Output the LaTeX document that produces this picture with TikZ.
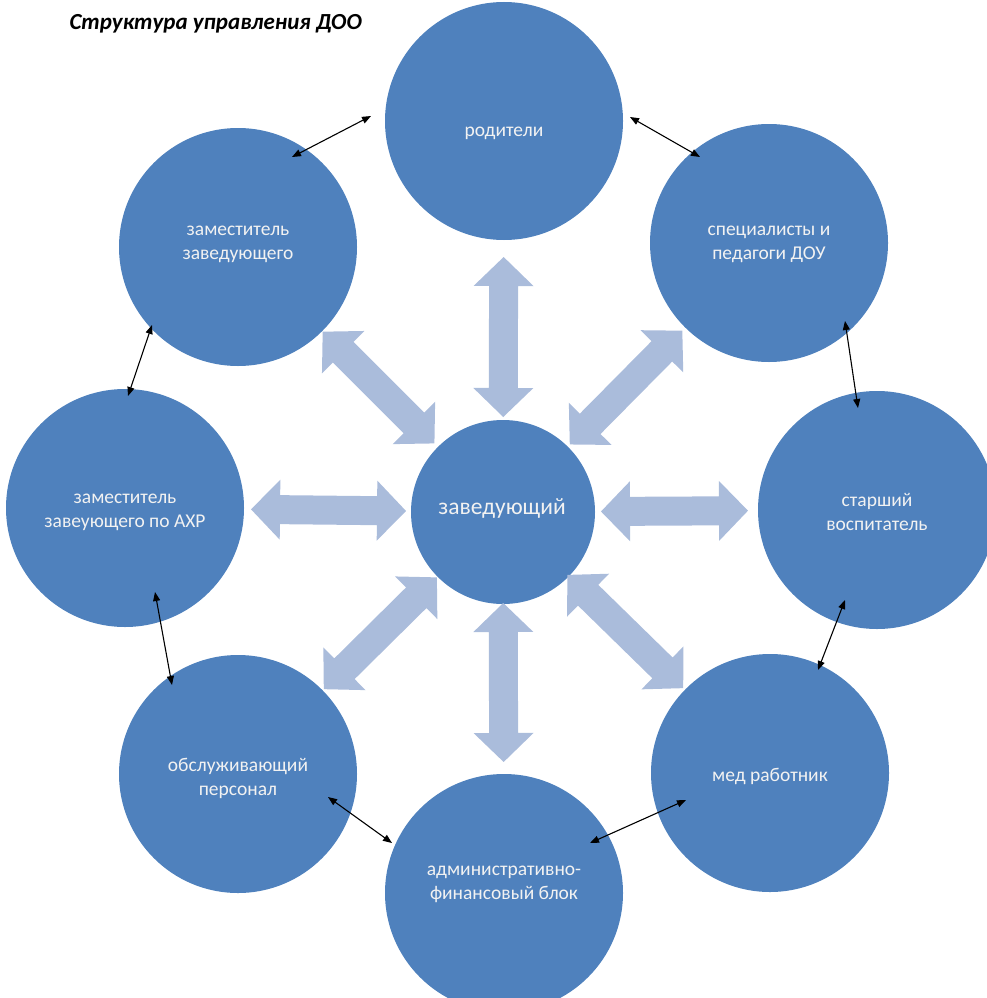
\documentclass[tikz,border=0pt]{standalone}
\usepackage{fontspec}
\setmainfont{Carlito}
\usetikzlibrary{calc,arrows.meta}
\definecolor{circ}{HTML}{4F81BD}
\definecolor{fat}{HTML}{AABCDB}
\definecolor{lbl}{HTML}{F2F2F2}
\tikzset{
  outer/.style={circle,fill=circ,minimum size=238pt,inner sep=0pt},
  lbltext/.style={text=lbl,font=\fontsize{19.5}{24}\selectfont,align=center},
  centre/.style={circle,fill=circ,minimum size=184pt,inner sep=0pt,text=lbl,
    font=\fontsize{23.5}{28}\selectfont,align=center},
  thin/.style={line width=1.1pt,black,{Triangle[length=9pt,width=7pt]}-{Triangle[length=9pt,width=7pt]}},
}
\newcommand{\fatarrow}[2]{%
  \fill[fat] let \p1=(#1), \p2=(#2), \n1={atan2(\y2-\y1,\x2-\x1)}, \n2={veclen(\x2-\x1,\y2-\y1)} in
   [shift={(\x1,\y1)},rotate=\n1]
   (0pt,0pt) -- (29pt,30pt) -- (29pt,14.5pt) -- (\n2-29pt,14.5pt) -- (\n2-29pt,30pt) -- (\n2,0pt)
   -- (\n2-29pt,-30pt) -- (\n2-29pt,-14.5pt) -- (29pt,-14.5pt) -- (29pt,-30pt) -- cycle;}
\begin{document}
\begin{tikzpicture}[x=1pt,y=-1pt]
\useasboundingbox (0,0) rectangle (987,998);
\clip (0,0) rectangle (987,998);
\node[anchor=base west,font=\fontsize{23}{26}\selectfont\bfseries\itshape] (title) at (66,30) {Структура управления ДОО};
\node[centre] (zav) at (503,512) {};
\node[text=lbl,font=\fontsize{23.5}{28}\selectfont] (zavt) at (502,508) {заведующий};
\node[outer] (rod) at (504,121) {};
\node[lbltext] (rodt) at (504,133) {родители};
\node[outer] (zz) at (238,247) {};
\node[lbltext] (zzt) at (238,244) {заместитель\\заведующего};
\node[outer] (sp) at (769,243) {};
\node[lbltext] (spt) at (769,244) {специалисты и\\педагоги ДОУ};
\node[outer] (ahr) at (125,508) {};
\node[lbltext] (ahrt) at (125,512) {заместитель\\завеующего по АХР};
\node[outer] (st) at (877,510) {};
\node[lbltext] (stt) at (877,512) {старший\\воспитатель};
\node[outer] (ob) at (238,774) {};
\node[lbltext] (obt) at (238,778) {обслуживающий\\персонал};
\node[outer] (med) at (770,773) {};
\node[lbltext] (medt) at (770,776) {мед работник};
\node[outer] (adm) at (504,893) {};
\node[lbltext] (admt) at (504,884) {административно-\\финансовый блок};
% fat arrows
\foreach \t/\a/\b in {rod/95/255, zz/97/255, sp/95/255, ahr/97/252, st/98/245, ob/93/252, med/90/252, adm/91/250}{
  \coordinate (i\t) at ($(zav)!\a pt!(\t)$);
  \coordinate (o\t) at ($(zav)!\b pt!(\t)$);
  \fatarrow{i\t}{o\t}
}
% thin arrows
\coordinate (a1) at (292,157); \coordinate (b1) at (371,116);
\coordinate (a2) at (630,117); \coordinate (b2) at (700,157);
\coordinate (a3) at (845,321); \coordinate (b3) at (858,408);
\coordinate (a4) at (845,600); \coordinate (b4) at (818,670);
\coordinate (a5) at (686,800); \coordinate (b5) at (590,843);
\coordinate (a6) at (328,797); \coordinate (b6) at (392,843);
\coordinate (a7) at (155,592); \coordinate (b7) at (172,685);
\coordinate (a8) at (152,325); \coordinate (b8) at (128,396);
\foreach \i in {1,...,8}{\draw[thin] (a\i) -- (b\i);}
\end{tikzpicture}
\end{document}
